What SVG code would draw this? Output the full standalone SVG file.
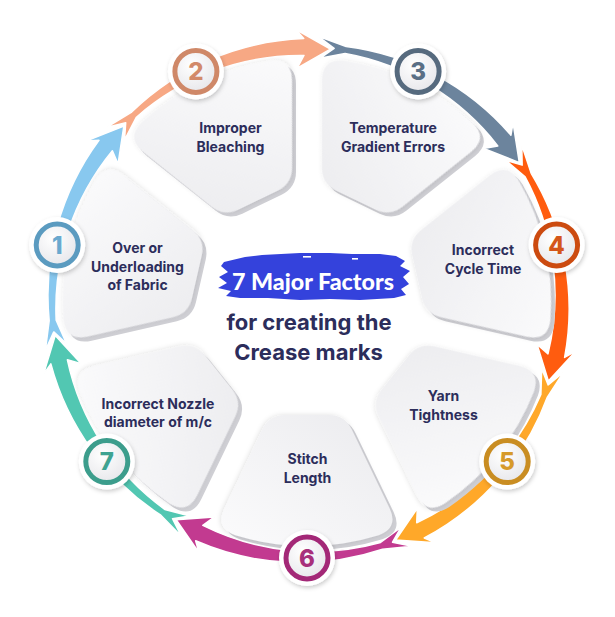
<svg xmlns="http://www.w3.org/2000/svg" xmlns:xlink="http://www.w3.org/1999/xlink" width="615" height="617" viewBox="0 0 615 617">
<style>
.face{fill:url(#faceGrad);filter:url(#soft)}
.ext{fill:#cfcfd4}
.arrow{stroke:#ffffff;stroke-width:1.5;stroke-linejoin:round}
.lbl{font-family:Inter,"Liberation Sans",sans-serif;font-weight:700;font-size:14px;fill:#2c2d5b;text-anchor:middle}
.num{font-family:Inter,"Liberation Sans",sans-serif;font-weight:800;font-size:24px;text-anchor:middle}
.halo{fill:#ffffff;filter:url(#soft2)}
.ring{fill:url(#numGrad);stroke-width:5}
.title{font-family:Inter,"Liberation Sans",sans-serif;font-weight:700;font-size:22px;fill:#2c2d5b;text-anchor:middle}
</style>
<defs>
<linearGradient id="faceGrad" x1="0" y1="0" x2="1" y2="1">
<stop offset="0" stop-color="#ebebee"/>
<stop offset="1" stop-color="#fbfbfc"/>
</linearGradient>
<radialGradient id="numGrad" cx="0.4" cy="0.35" r="0.7">
<stop offset="0" stop-color="#ffffff"/>
<stop offset="1" stop-color="#e6e6ea"/>
</radialGradient>
<filter id="soft" x="-20%" y="-20%" width="140%" height="140%">
<feDropShadow dx="0" dy="1" stdDeviation="2.5" flood-color="#000000" flood-opacity="0.12"/>
</filter>
<filter id="soft2" x="-40%" y="-40%" width="180%" height="180%">
<feDropShadow dx="1" dy="2" stdDeviation="2" flood-color="#000000" flood-opacity="0.2"/>
</filter>
<path id="cardShape" d="M 113,-21.77 Q 113,-37.77 127.42,-44.71 L 206.10,-82.60 Q 225.93,-92.15 233.31,-71.42 A 244 244 0 0 1 233.31,71.42 Q 225.93,92.15 206.10,82.60 L 127.42,44.71 Q 113,37.77 113,21.77 Z"/>
<path id="arrowShape" d="M 244.31,-105.21 L 247.21,-75.58 A 261 261 0 0 1 238.81,111.36 L 250.74,107.98 L 217.72,130.82 L 214.92,92.55 L 223.41,104.18 A 249 249 0 0 0 240.51,-73.53 L 225.10,-94.16 L 240.23,-85.54 Z"/>
</defs>
<rect width="615" height="617" fill="#ffffff"/>

<g id="connectors">
<use xlink:href="#arrowShape" class="arrow" fill="#88c8ef" transform="translate(307,302) rotate(192.86)"/>
<use xlink:href="#arrowShape" class="arrow" fill="#f7a884" transform="translate(307,302) rotate(244.29)"/>
<use xlink:href="#arrowShape" class="arrow" fill="#6c849d" transform="translate(307,302) rotate(295.71)"/>
<use xlink:href="#arrowShape" class="arrow" fill="#ff5c0f" transform="translate(307,302) rotate(347.14)"/>
<use xlink:href="#arrowShape" class="arrow" fill="#ffa829" transform="translate(307,302) rotate(38.57)"/>
<use xlink:href="#arrowShape" class="arrow" fill="#c23a90" transform="translate(307,302) rotate(90)"/>
<use xlink:href="#arrowShape" class="arrow" fill="#52c7b2" transform="translate(307,302) rotate(141.43)"/>
</g>

<g id="node1">
<use xlink:href="#cardShape" class="ext" transform="translate(311,306) rotate(192.86)"/>
<use xlink:href="#cardShape" class="face" transform="translate(307,302) rotate(192.86)"/>
<text class="lbl" x="137.5" y="253">Over or</text>
<text class="lbl" x="137.5" y="271.5">Underloading</text>
<text class="lbl" x="137.5" y="290">of Fabric</text>
<circle class="halo" cx="57.2" cy="245" r="28"/>
<circle class="ring" cx="57.2" cy="245" r="21" stroke="#5b9bc0"/>
<text class="num" x="57.2" y="253.5" fill="#6aa9cf">1</text>
</g>

<g id="node2">
<use xlink:href="#cardShape" class="ext" transform="translate(311,306) rotate(244.29)"/>
<use xlink:href="#cardShape" class="face" transform="translate(307,302) rotate(244.29)"/>
<text class="lbl" x="230.5" y="133">Improper</text>
<text class="lbl" x="230.5" y="152">Bleaching</text>
<circle class="halo" cx="195.9" cy="71.4" r="28"/>
<circle class="ring" cx="195.9" cy="71.4" r="21" stroke="#cf8868"/>
<text class="num" x="195.9" y="79.9" fill="#d28a6a">2</text>
</g>

<g id="node3">
<use xlink:href="#cardShape" class="ext" transform="translate(311,306) rotate(295.71)"/>
<use xlink:href="#cardShape" class="face" transform="translate(307,302) rotate(295.71)"/>
<text class="lbl" x="393" y="133">Temperature</text>
<text class="lbl" x="393" y="152">Gradient Errors</text>
<circle class="halo" cx="418.1" cy="71.4" r="28"/>
<circle class="ring" cx="418.1" cy="71.4" r="21" stroke="#566a7e"/>
<text class="num" x="418.1" y="79.9" fill="#5a6f85">3</text>
</g>

<g id="node4">
<use xlink:href="#cardShape" class="ext" transform="translate(311,306) rotate(347.14)"/>
<use xlink:href="#cardShape" class="face" transform="translate(307,302) rotate(347.14)"/>
<text class="lbl" x="483" y="255">Incorrect</text>
<text class="lbl" x="483" y="273.5">Cycle Time</text>
<circle class="halo" cx="556.6" cy="245" r="28"/>
<circle class="ring" cx="556.6" cy="245" r="21" stroke="#cc4b10"/>
<text class="num" x="556.6" y="253.5" fill="#d4561a">4</text>
</g>

<g id="node5">
<use xlink:href="#cardShape" class="ext" transform="translate(311,306) rotate(38.57)"/>
<use xlink:href="#cardShape" class="face" transform="translate(307,302) rotate(38.57)"/>
<text class="lbl" x="443.5" y="401">Yarn</text>
<text class="lbl" x="443.5" y="419.5">Tightness</text>
<circle class="halo" cx="507.2" cy="461.6" r="28"/>
<circle class="ring" cx="507.2" cy="461.6" r="21" stroke="#c98d22"/>
<text class="num" x="507.2" y="470.1" fill="#d69a2a">5</text>
</g>

<g id="node6">
<use xlink:href="#cardShape" class="ext" transform="translate(311,306) rotate(90)"/>
<use xlink:href="#cardShape" class="face" transform="translate(307,302) rotate(90)"/>
<text class="lbl" x="307.5" y="464">Stitch</text>
<text class="lbl" x="307.5" y="482.5">Length</text>
<circle class="halo" cx="307" cy="558" r="28"/>
<circle class="ring" cx="307" cy="558" r="21" stroke="#a32877"/>
<text class="num" x="307" y="566.5" fill="#a8307b">6</text>
</g>

<g id="node7">
<use xlink:href="#cardShape" class="ext" transform="translate(311,306) rotate(141.43)"/>
<use xlink:href="#cardShape" class="face" transform="translate(307,302) rotate(141.43)"/>
<text class="lbl" x="158" y="409">Incorrect Nozzle</text>
<text class="lbl" x="158" y="427">diameter of m/c</text>
<circle class="halo" cx="106.8" cy="461.6" r="28"/>
<circle class="ring" cx="106.8" cy="461.6" r="21" stroke="#3c9d8c"/>
<text class="num" x="106.8" y="470.1" fill="#3fa391">7</text>
</g>

<g id="center">
<path fill="#3442dc" d="M 224,262 L 245,257 L 262,255 L 300,253 L 330,253 L 352,254 L 380,254 L 396,256 L 405,261 L 400,266 L 410,271 L 403,277 L 409,284 L 401,289 L 406,295 L 394,298 L 360,300 L 330,299 L 300,300 L 268,298 L 240,298 L 226,296 L 231,291 L 218,288 L 227,283 L 219,277 L 228,272 L 221,266 Z"/>
<rect x="303" y="256" width="8" height="1.6" fill="#ffffff"/>
<rect x="352" y="258" width="6" height="1.6" fill="#ffffff"/>
<text x="313" y="289.5" font-family="Lato,'Liberation Sans',sans-serif" font-weight="900" font-size="22" fill="#ffffff" text-anchor="middle" textLength="162" lengthAdjust="spacingAndGlyphs">7 Major Factors</text>
<text class="title" x="309" y="329.5">for creating the</text>
<text class="title" x="308.5" y="359.5">Crease marks</text>
</g>
</svg>
